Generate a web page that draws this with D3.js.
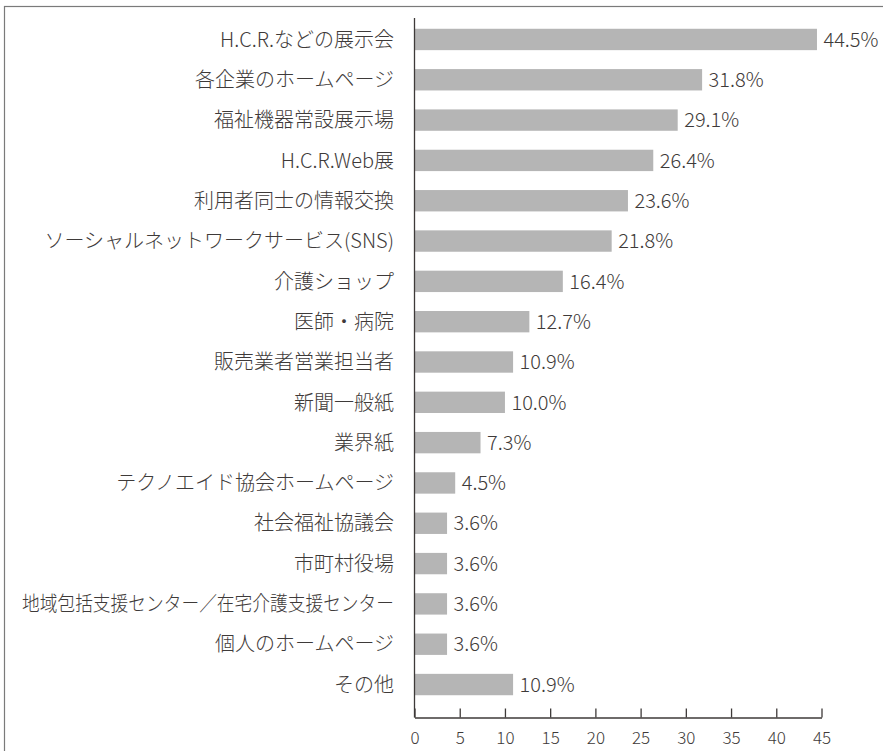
<!DOCTYPE html>
<html>
<head>
<meta charset="utf-8">
<script src="https://cdn.jsdelivr.net/npm/d3@7"></script>
<style>
  body { margin: 0; background: #fff; }
  text { font-family: "Noto Sans CJK JP", "Noto Sans", sans-serif; fill: #3e3a39; font-weight: 300; }
</style>
</head>
<body>
<div id="chart"></div>
<script>
// 項目と割合(%)
const categories = [
    "H.C.R.などの展示会",
    "各企業のホームページ",
    "福祉機器常設展示場",
    "H.C.R.Web展",
    "利用者同士の情報交換",
    "ソーシャルネットワークサービス(SNS)",
    "介護ショップ",
    "医師・病院",
    "販売業者営業担当者",
    "新聞一般紙",
    "業界紙",
    "テクノエイド協会ホームページ",
    "社会福祉協議会",
    "市町村役場",
    "地域包括支援センター／在宅介護支援センター",
    "個人のホームページ",
    "その他"
];
const values = [44.5, 31.8, 29.1, 26.4, 23.6, 21.8, 16.4, 12.7, 10.9, 10.0, 7.3, 4.5, 3.6, 3.6, 3.6, 3.6, 10.9];
const xTicks = [0, 5, 10, 15, 20, 25, 30, 35, 40, 45];

const data = categories.map((c, i) => ({ name: c, value: values[i] }));

const W = 883, H = 751;
const left = 414.5, right = 821.5;
const axisY = 717.5;
const labelRight = 394, labelMaxWidth = 372;

const svg = d3.select("#chart").append("svg")
    .attr("width", W)
    .attr("height", H);

// 枠線
svg.append("rect")
    .attr("x", 4.5).attr("y", 6.5)
    .attr("width", 900).attr("height", 800)
    .attr("fill", "none")
    .attr("stroke", "#7a7a7a")
    .attr("stroke-width", 1.2);

// スケール
const x = d3.scaleLinear().domain([0, 45]).range([left, right]);
const y = d3.scaleBand()
    .domain(categories)
    .range([19.3, 704.7])
    .paddingInner(0.47)
    .paddingOuter(0.235);

// 棒
svg.selectAll(".bar")
    .data(data)
    .enter().append("rect")
    .attr("class", "bar")
    .attr("x", x(0))
    .attr("y", d => y(d.name))
    .attr("width", d => x(d.value) - x(0))
    .attr("height", y.bandwidth())
    .attr("fill", "#b5b5b5");

// 値ラベル
svg.selectAll(".val")
    .data(data)
    .enter().append("text")
    .attr("class", "val")
    .attr("x", d => x(d.value) + 6.5)
    .attr("y", d => y(d.name) + y.bandwidth() / 2)
    .attr("dy", "0.36em")
    .style("font-size", "20px")
    .text(d => d3.format(".1f")(d.value) + "%");

// 項目ラベル(長すぎるものは枠内に収める)
svg.selectAll(".cat")
    .data(data)
    .enter().append("text")
    .attr("class", "cat")
    .attr("x", labelRight)
    .attr("y", d => y(d.name) + y.bandwidth() / 2)
    .attr("dy", "0.36em")
    .attr("text-anchor", "end")
    .style("font-size", "20px")
    .text(d => d.name)
    .each(function () {
        if (this.getComputedTextLength() > labelMaxWidth) {
            d3.select(this)
                .attr("textLength", labelMaxWidth)
                .attr("lengthAdjust", "spacingAndGlyphs");
        }
    });

// 縦軸線
svg.append("line")
    .attr("x1", left).attr("x2", left)
    .attr("y1", 18).attr("y2", axisY)
    .attr("stroke", "#3e3a39")
    .attr("stroke-width", 1.3);

// 横軸
const xAxis = svg.append("g")
    .attr("transform", `translate(0, ${axisY})`)
    .call(d3.axisBottom(x).tickValues(xTicks).tickSizeInner(-9).tickSizeOuter(0).tickPadding(14));
xAxis.select(".domain").attr("stroke", "#3e3a39").attr("stroke-width", 1.3);
xAxis.selectAll(".tick line").attr("stroke", "#3e3a39").attr("stroke-width", 1.3);
xAxis.selectAll(".tick text")
    .style("font-size", "17px")
    .style("font-family", "\"Noto Sans CJK JP\", sans-serif")
    .style("font-weight", "300")
    .attr("fill", "#3e3a39");
</script>
</body>
</html>
